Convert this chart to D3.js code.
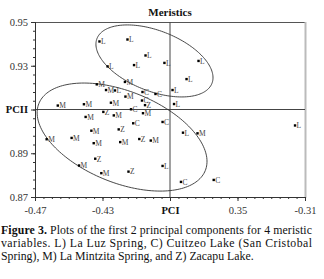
<!DOCTYPE html>
<html>
<head>
<meta charset="utf-8">
<script src="https://cdn.jsdelivr.net/npm/d3@7"></script>
<style>
  body { margin: 0; background: #fff; }
  svg { display: block; font-family: "Liberation Serif", "Times New Roman", serif; }
</style>
</head>
<body>
<svg id="chart" width="324" height="279"></svg>
<script>
// ----- data -----
const laLuz = [
  [-0.4318, 0.9411], [-0.4152, 0.9420], [-0.4045, 0.9347], [-0.4113, 0.9303],
  [-0.3933, 0.9313], [-0.3731, 0.9322], [-0.4270, 0.9297], [-0.3802, 0.9239],
  [-0.3885, 0.9189], [-0.3876, 0.9125], [-0.4226, 0.9187], [-0.3823, 0.8994],
  [-0.3159, 0.9027], [-0.3944, 0.8842]
];
const cuitzeo = [
  [-0.3986, 0.9171], [-0.4066, 0.9141], [-0.4131, 0.9101], [-0.4118, 0.9037],
  [-0.3944, 0.9043], [-0.3835, 0.8769], [-0.3641, 0.8778], [-0.4063, 0.9180]
];
const mintzita = [
  [-0.4334, 0.9215], [-0.4167, 0.9226], [-0.4279, 0.9189], [-0.4164, 0.9159],
  [-0.4565, 0.9118], [-0.4410, 0.9124], [-0.4250, 0.9131], [-0.4233, 0.9073],
  [-0.4060, 0.9083], [-0.4400, 0.9066], [-0.4366, 0.9003], [-0.4631, 0.8964],
  [-0.4483, 0.8970], [-0.4352, 0.8946], [-0.4195, 0.8951], [-0.4014, 0.8958],
  [-0.4439, 0.8844], [-0.4307, 0.8809], [-0.3737, 0.8991]
];
const zacapu = [
  [-0.4048, 0.9120], [-0.4295, 0.9089], [-0.4204, 0.9009], [-0.4082, 0.8965],
  [-0.4343, 0.8875], [-0.4146, 0.8816]
];
const groupLetters = ["L", "C", "M", "Z"];

// ellipses: centre plus two conjugate half-axis vectors, in data units
const ellipses = [
  { cx: -0.3992, cy: 0.9322, ux: 0.03407, uy: -0.01024, vx: -0.00652, vy: -0.01289 },
  { cx: -0.4184, cy: 0.8974, ux: 0.04931, uy: -0.01531, vx: -0.01008, vy: -0.01938 }
];

const xTickValues = [-0.47, -0.43, -0.39, -0.35, -0.31];
const xTickLabels = ["-0.47", "-0.43", "PCI", "0.35", "-0.31"];
const yTickValues = [0.95, 0.93, 0.91, 0.89, 0.87];
const yTickLabels = ["0.95", "0.93", "PCII", "0.89", "0.87"];

const title = "Meristics";
const captionBold = "Figure 3.";
const captionLines = [
  " Plots of the first 2 principal components for 4 meristic",
  "variables. L) La Luz Spring, C) Cuitzeo Lake (San Cristobal",
  "Spring), M) La Mintzita Spring, and Z) Zacapu Lake."
];

// ----- layout -----
const svg = d3.select('#chart');
const mLeft = 35, mRight = 305, mTop = 22, mBottom = 197;

const xScale = d3.scaleLinear().domain([-0.47, -0.31]).range([mLeft, mRight]);
const yScale = d3.scaleLinear().domain([0.87, 0.95]).range([mBottom, mTop]);

// frame: top and right borders
svg.append('line')
   .attr('x1', mLeft).attr('x2', mRight).attr('y1', mTop + 0.5).attr('y2', mTop + 0.5)
   .attr('stroke', '#555').attr('stroke-width', 1);
svg.append('line')
   .attr('x1', mRight + 0.5).attr('x2', mRight + 0.5).attr('y1', mTop).attr('y2', mBottom + 1)
   .attr('stroke', '#bbb').attr('stroke-width', 2);

// cross lines at the PC axes
svg.append('line')
   .attr('x1', mLeft).attr('x2', mRight)
   .attr('y1', yScale(0.91)).attr('y2', yScale(0.91))
   .attr('stroke', '#444').attr('stroke-width', 1);
svg.append('line')
   .attr('x1', xScale(-0.39)).attr('x2', xScale(-0.39))
   .attr('y1', mTop).attr('y2', mBottom)
   .attr('stroke', '#444').attr('stroke-width', 1);

// axes with minor ticks
const xMinor = d3.range(-0.47, -0.3099, 0.005);
const yMinor = d3.range(0.87, 0.9501, 0.004);

const xAxisG = svg.append('g').attr('transform', `translate(0, ${mBottom})`);
xAxisG.call(d3.axisBottom(xScale).tickValues(xMinor).tickSize(2).tickFormat(''));
xAxisG.append('g').call(d3.axisBottom(xScale).tickValues(xTickValues).tickSize(4)
       .tickFormat((d, i) => xTickLabels[i]));
const yAxisG = svg.append('g').attr('transform', `translate(${mLeft}, 0)`);
yAxisG.call(d3.axisLeft(yScale).tickValues(yMinor).tickSize(2).tickFormat(''));
yAxisG.append('g').call(d3.axisLeft(yScale).tickValues(yTickValues).tickSize(4)
       .tickFormat((d, i) => yTickLabels[i]));

svg.selectAll('.domain').attr('stroke', '#333');
svg.selectAll('.tick line').attr('stroke', '#333');
svg.selectAll('.tick text')
   .attr('font-family', '"Liberation Serif", serif')
   .attr('font-size', 10.5)
   .attr('fill', '#333');
xAxisG.selectAll('.tick text').attr('dy', '0.95em');
xAxisG.selectAll('.tick text').filter(d => d === -0.39).attr('font-weight', 'bold').attr('fill', '#111');
yAxisG.selectAll('.tick text').filter(d => Math.abs(d - 0.91) < 1e-9)
      .attr('font-weight', 'bold').attr('fill', '#111');

// ellipses
const tSteps = d3.range(0, 2 * Math.PI + 0.001, Math.PI / 90);
const ellipseLine = d3.line()
  .x(p => xScale(p[0]))
  .y(p => yScale(p[1]));
svg.selectAll('path.ellipse')
   .data(ellipses)
   .join('path')
   .attr('class', 'ellipse')
   .attr('d', e => ellipseLine(tSteps.map(t => [
      e.cx + e.ux * Math.cos(t) + e.vx * Math.sin(t),
      e.cy + e.uy * Math.cos(t) + e.vy * Math.sin(t)
   ])))
   .attr('fill', 'none')
   .attr('stroke', '#333')
   .attr('stroke-width', 0.9);

// points
const points = [];
[laLuz, cuitzeo, mintzita, zacapu].forEach((grp, gi) => {
  grp.forEach(d => points.push({ x: d[0], y: d[1], label: groupLetters[gi] }));
});

const pts = svg.append('g').attr('class', 'points');
pts.selectAll('rect')
   .data(points)
   .join('rect')
   .attr('x', d => xScale(d.x) - 1.2)
   .attr('y', d => yScale(d.y) - 1.2)
   .attr('width', 2.4)
   .attr('height', 2.4)
   .attr('fill', '#000');
pts.selectAll('text')
   .data(points)
   .join('text')
   .attr('x', d => xScale(d.x) + 1.5)
   .attr('y', d => yScale(d.y))
   .attr('dy', '0.38em')
   .attr('font-size', 7.5)
   .attr('fill', '#444')
   .text(d => d.label);

// title
svg.append('text')
   .attr('x', 170).attr('y', 16)
   .attr('text-anchor', 'middle')
   .attr('font-size', 11)
   .attr('font-weight', 'bold')
   .attr('fill', '#111')
   .text(title);

// caption
const cap = svg.append('g').attr('font-size', 11.8).attr('fill', '#111');
const first = cap.append('text')
   .attr('x', 1).attr('y', 234)
   .attr('textLength', 311).attr('lengthAdjust', 'spacing');
first.append('tspan').attr('font-weight', 'bold').text(captionBold);
first.append('tspan').text(captionLines[0]);
cap.append('text')
   .attr('x', 1).attr('y', 247)
   .attr('textLength', 311).attr('lengthAdjust', 'spacing')
   .text(captionLines[1]);
cap.append('text')
   .attr('x', 1).attr('y', 260)
   .text(captionLines[2]);
</script>
</body>
</html>
